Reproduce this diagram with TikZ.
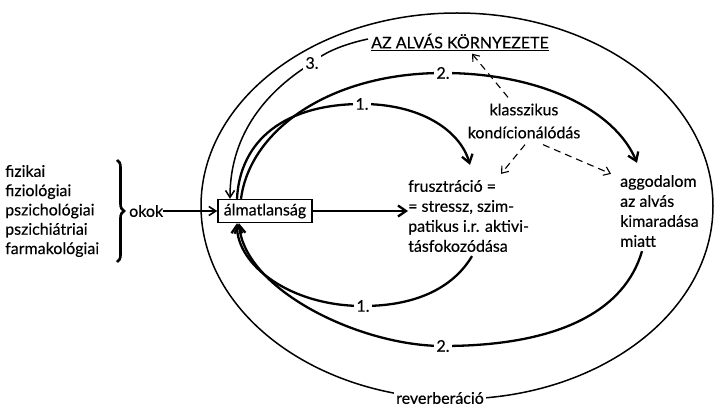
\documentclass[tikz,border=0pt]{standalone}
\usepackage{fontspec}
\setmainfont[FakeBold=0.35,AutoFakeBold=0.35]{Lato}
\usetikzlibrary{arrows.meta,decorations.pathreplacing,calc}
\begin{document}
\begin{tikzpicture}[x=1pt,y=-1pt,
  txt/.style={font=\fontsize{16}{20}\selectfont\bfseries, inner sep=0pt, align=left},
  lbl/.style={font=\fontsize{16}{18}\selectfont\bfseries, fill=white, inner sep=2.5pt},
  boldline/.style={line width=2.3pt},
  thinline/.style={line width=1.5pt},
  barb/.style={-{Straight Barb[length=8pt,width=11pt]}},
  smallbarb/.style={-{Straight Barb[length=7pt,width=9pt]}},
  dsh/.style={line width=1.1pt, dash pattern=on 7pt off 5pt, -{Straight Barb[length=6pt,width=9pt]}}]
\useasboundingbox (0,0) rectangle (715,406);

% text nodes
\node[txt, anchor=west, font=\fontsize{16}{19.3}\selectfont\bfseries] (list) at (5,211) {fizikai\\fiziológiai\\pszichológiai\\pszichiátriai\\farmakológiai};
\node[txt, anchor=west] (okok) at (129,211) {okok};
\node[draw, line width=1.4pt, inner sep=2pt, font=\fontsize{16}{18}\selectfont\bfseries,
      minimum width=94pt, minimum height=23pt] (alm) at (265,211) {álmatlanság};
\node[txt, anchor=west] (frusz) at (408,216) {frusztráció =\\= stressz, szim-\\patikus i.r. aktivi-\\tásfokozódása};
\node[txt, anchor=west] (aggod) at (620,211) {aggodalom\\az alvás\\kimaradása\\miatt};
\node[txt, align=center, font=\fontsize{16}{23}\selectfont\bfseries] (klassz) at (524,121) {klasszikus\\kondícionálódás};
\node[txt] (env) at (460,42) {\underline{AZ ALVÁS KÖRNYEZETE}};

% label positions
\coordinate (c1u) at (362,104);
\coordinate (c2u) at (443,73);
\coordinate (c3) at (312,63);
\coordinate (c1d) at (363,306);
\coordinate (c2d) at (443,346);
\coordinate (crev) at (440,398);
\coordinate (br1) at (117,160);
\coordinate (br2) at (117,262);

% outer loop (reverberáció)
\draw[thinline] (457,206) ellipse [x radius=256pt, y radius=193pt];

% brace
\draw[line width=2.6pt, decorate, decoration={brace, amplitude=7pt}] (br1) -- (br2);

% straight arrows
\draw[line width=1.6pt, smallbarb] (okok.east) -- (alm.west);
\draw[boldline, barb] (alm.east) -- (alm.east -| frusz.west);

% upper curves
\draw[boldline, barb] ($(alm.north)+(-28,0)$) .. controls (240,140) and (285,104) .. (c1u)
   .. controls (420,104) and (460,130) .. ($(frusz.north west)+(62,-15)$);
\draw[boldline, barb] ($(alm.north)+(-24,0)$) .. controls (250,130) and (330,73) .. (c2u)
   .. controls (540,73) and (615,110) .. ($(aggod.north west)+(17,-12)$);
\draw[thinline, smallbarb] ($(env.west)+(-3,-3)$) .. controls (340,45) and (322,54) .. (c3)
   .. controls (260,95) and (230,140) .. ($(alm.north)+(-35,0)$);

% lower curves
\draw[boldline, barb] ($(frusz.south west)+(64,4)$) .. controls (455,285) and (420,306) .. (c1d)
   .. controls (290,306) and (237,265) .. ($(alm.south)+(-28,0)$);
\draw[boldline, barb] ($(aggod.south west)+(22,4)$) .. controls (625,310) and (560,346) .. (c2d)
   .. controls (360,346) and (245,290) .. ($(alm.south)+(-26,0)$);

% dashed arrows
\draw[dsh] ($(klassz.north)+(-16,-6)$) -- ($(env.south)+(12,3)$);
\draw[dsh] ($(klassz.south)+(1,6)$) -- ($(frusz.north west)+(93,-6)$);
\draw[dsh] ($(klassz.south)+(19,6)$) -- ($(aggod.north west)+(-9,-1)$);

% labels
\node[lbl] (l1u) at (c1u) {1.};
\node[lbl] (l2u) at (c2u) {2.};
\node[lbl] (l3) at (c3) {3.};
\node[lbl] (l1d) at (c1d) {1.};
\node[lbl] (l2d) at (c2d) {2.};
\node[lbl] (rev) at (crev) {reverberáció};
\end{tikzpicture}
\end{document}
